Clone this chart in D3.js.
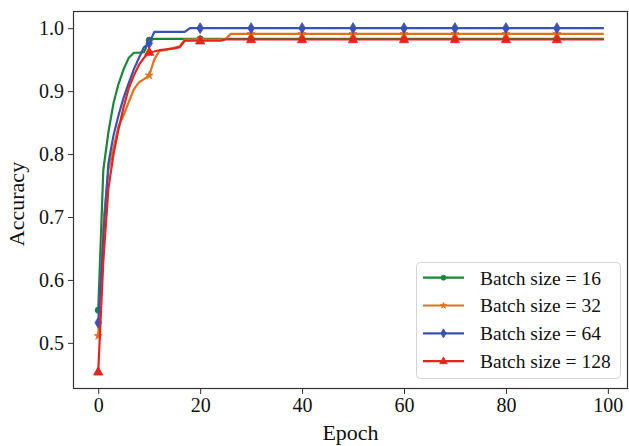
<!DOCTYPE html>
<html>
<head>
<meta charset="utf-8">
<script src="https://cdn.jsdelivr.net/npm/d3@7"></script>
<style>
  html, body { margin: 0; padding: 0; background: #fff; }
  svg { display: block; }
  text { font-family: "Liberation Serif", "Times New Roman", serif; fill: #111; }
</style>
</head>
<body>
<svg id="chart" width="629" height="446"></svg>
<script>
// ---------------- data ----------------
const seriesNames = ["Batch size = 16", "Batch size = 32", "Batch size = 64", "Batch size = 128"];
const epochs = d3.range(100);

const acc16 = [
  0.552,0.775,0.835,0.881,0.912,0.935,0.953,0.961,0.961,0.962,
  0.981,0.983,0.983,0.983,0.983,0.983,0.983,0.983,0.983,0.983,
  0.983,0.983,0.983,0.983,0.983,0.983,0.983,0.983,0.983,0.983,
  0.983,0.983,0.983,0.983,0.983,0.983,0.983,0.983,0.983,0.983,
  0.983,0.983,0.983,0.983,0.983,0.983,0.983,0.983,0.983,0.983,
  0.983,0.983,0.983,0.983,0.983,0.983,0.983,0.983,0.983,0.983,
  0.983,0.983,0.983,0.983,0.983,0.983,0.983,0.983,0.983,0.983,
  0.983,0.983,0.983,0.983,0.983,0.983,0.983,0.983,0.983,0.983,
  0.983,0.983,0.983,0.983,0.983,0.983,0.983,0.983,0.983,0.983,
  0.983,0.983,0.983,0.983,0.983,0.983,0.983,0.983,0.983,0.983
];
const acc32 = [
  0.511,0.690,0.775,0.810,0.845,0.862,0.883,0.903,0.914,0.919,
  0.925,0.950,0.964,0.965,0.967,0.969,0.971,0.982,0.982,0.982,
  0.982,0.982,0.982,0.982,0.982,0.983,0.991,0.991,0.991,0.991,
  0.991,0.991,0.991,0.991,0.991,0.991,0.991,0.991,0.991,0.991,
  0.991,0.991,0.991,0.991,0.991,0.991,0.991,0.991,0.991,0.991,
  0.991,0.991,0.991,0.991,0.991,0.991,0.991,0.991,0.991,0.991,
  0.991,0.991,0.991,0.991,0.991,0.991,0.991,0.991,0.991,0.991,
  0.991,0.991,0.991,0.991,0.991,0.991,0.991,0.991,0.991,0.991,
  0.991,0.991,0.991,0.991,0.991,0.991,0.991,0.991,0.991,0.991,
  0.991,0.991,0.991,0.991,0.991,0.991,0.991,0.991,0.991,0.991
];
const acc64 = [
  0.532,0.670,0.785,0.830,0.862,0.890,0.913,0.935,0.953,0.970,
  0.976,0.994,0.994,0.994,0.994,0.994,0.994,0.994,1.000,1.000,
  1.000,1.000,1.000,1.000,1.000,1.000,1.000,1.000,1.000,1.000,
  1.000,1.000,1.000,1.000,1.000,1.000,1.000,1.000,1.000,1.000,
  1.000,1.000,1.000,1.000,1.000,1.000,1.000,1.000,1.000,1.000,
  1.000,1.000,1.000,1.000,1.000,1.000,1.000,1.000,1.000,1.000,
  1.000,1.000,1.000,1.000,1.000,1.000,1.000,1.000,1.000,1.000,
  1.000,1.000,1.000,1.000,1.000,1.000,1.000,1.000,1.000,1.000,
  1.000,1.000,1.000,1.000,1.000,1.000,1.000,1.000,1.000,1.000,
  1.000,1.000,1.000,1.000,1.000,1.000,1.000,1.000,1.000,1.000
];
const acc128 = [
  0.454,0.630,0.745,0.800,0.840,0.875,0.905,0.925,0.942,0.953,
  0.962,0.963,0.965,0.966,0.967,0.968,0.970,0.980,0.980,0.980,
  0.980,0.980,0.980,0.980,0.980,0.982,0.982,0.982,0.982,0.982,
  0.982,0.982,0.982,0.982,0.982,0.982,0.982,0.982,0.982,0.982,
  0.982,0.982,0.982,0.982,0.982,0.982,0.982,0.982,0.982,0.982,
  0.982,0.982,0.982,0.982,0.982,0.982,0.982,0.982,0.982,0.982,
  0.982,0.982,0.982,0.982,0.982,0.982,0.982,0.982,0.982,0.982,
  0.982,0.982,0.982,0.982,0.982,0.982,0.982,0.982,0.982,0.982,
  0.982,0.982,0.982,0.982,0.982,0.982,0.982,0.982,0.982,0.982,
  0.982,0.982,0.982,0.982,0.982,0.982,0.982,0.982,0.982,0.982
];
const xTicks = [0, 20, 40, 60, 80, 100];
const yTicks = [0.5, 0.6, 0.7, 0.8, 0.9, 1.0];
const xLabel = "Epoch";
const yLabel = "Accuracy";

// ---------------- styling ----------------
const FONT = '"Liberation Serif", "Times New Roman", serif';
const colors = ["#17873a", "#e0721f", "#3a52b4", "#e6241d"];
const markerTypes = [d3.symbolCircle, "star", "thindiamond", "triangle"];
const markEvery = 10;

const svg = d3.select("#chart");
const W = 629, H = 446;
const margin = { left: 73, right: 1, top: 11, bottom: 57 };
const plotL = margin.left, plotR = W - margin.right, plotT = margin.top, plotB = H - margin.bottom;

const allSeries = [acc16, acc32, acc64, acc128];
const xExt = d3.extent(epochs);
const yExt = [d3.min(allSeries, s => d3.min(s)), d3.max(allSeries, s => d3.max(s))];
const xPad = (xExt[1] - xExt[0]) * 0.05, yPad = (yExt[1] - yExt[0]) * 0.05;

const x = d3.scaleLinear().domain([xExt[0] - xPad, xExt[1] + xPad]).range([plotL, plotR]);
const y = d3.scaleLinear().domain([yExt[0] - yPad, yExt[1] + yPad]).range([plotB, plotT]);

svg.append("defs").append("clipPath").attr("id", "clip")
  .append("rect").attr("x", plotL).attr("y", plotT).attr("width", plotR - plotL).attr("height", plotB - plotT);

// axes
const axisColor = "#333";
const xAxis = svg.append("g").attr("transform", `translate(0,${plotB})`)
  .call(d3.axisBottom(x).tickValues(xTicks).tickFormat(d3.format("d")).tickSize(5).tickPadding(4));
const yAxis = svg.append("g").attr("transform", `translate(${plotL},0)`)
  .call(d3.axisLeft(y).tickValues(yTicks).tickFormat(d3.format(".1f")).tickSize(5).tickPadding(4));
[xAxis, yAxis].forEach(a => {
  a.attr("font-family", FONT).attr("font-size", 20);
  a.select(".domain").remove();
  a.selectAll(".tick line").attr("stroke", axisColor).attr("stroke-width", 1);
  a.selectAll(".tick text").attr("fill", "#111").attr("font-family", FONT).attr("font-size", 20)
    .style("font-family", FONT);
});

// frame
svg.append("rect").attr("x", plotL + 0.5).attr("y", plotT + 0.5)
  .attr("width", plotR - plotL - 1).attr("height", plotB - plotT - 1)
  .attr("fill", "none").attr("stroke", axisColor).attr("stroke-width", 1.2);

// labels
svg.append("text").attr("x", (plotL + plotR) / 2).attr("y", 440)
  .attr("text-anchor", "middle").attr("font-size", 22).text(xLabel);
svg.append("text").attr("transform", `translate(24,${(plotT + plotB) / 2 + 4}) rotate(-90)`)
  .attr("text-anchor", "middle").attr("font-size", 22).text(yLabel);

function markerPath(type, legend) {
  if (type === "star") return d3.symbol(d3.symbolStar, legend ? 12 : 20)();
  if (type === "thindiamond") return legend ? "M0,-4.5L2.7,0L0,4.5L-2.7,0Z" : "M0,-5.5L3.3,0L0,5.5L-3.3,0Z";
  if (type === "triangle") return legend ? "M0,-4.2L3.8,2.6L-3.8,2.6Z" : "M0,-5.2L4.6,3.2L-4.6,3.2Z";
  return d3.symbol(type, legend ? 20 : 30)();
}

const line = d3.line().x((d, i) => x(epochs[i])).y(d => y(d));
const gPlot = svg.append("g").attr("clip-path", "url(#clip)");

allSeries.forEach((s, k) => {
  gPlot.append("path").datum(s).attr("d", line)
    .attr("fill", "none").attr("stroke", colors[k]).attr("stroke-width", 2.2)
    .attr("stroke-linejoin", "round").attr("stroke-linecap", "square");
  gPlot.selectAll(null).data(s.map((v, i) => [epochs[i], v]).filter(d => d[0] % markEvery === 0))
    .enter().append("path")
    .attr("d", markerPath(markerTypes[k], false))
    .attr("transform", d => `translate(${x(d[0])},${y(d[1])})`)
    .attr("fill", colors[k]).attr("stroke", colors[k]).attr("stroke-width", 0.8);
});

// legend
const lg = svg.append("g");
lg.append("rect").attr("x", 416.5).attr("y", 262.5).attr("width", 204).attr("height", 116)
  .attr("rx", 4).attr("fill", "#fff").attr("fill-opacity", 0.85).attr("stroke", "#d4d4d4").attr("stroke-width", 1);
seriesNames.forEach((name, k) => {
  const yy = 277.7 + k * 27.8;
  lg.append("line").attr("x1", 423).attr("x2", 464).attr("y1", yy).attr("y2", yy)
    .attr("stroke", colors[k]).attr("stroke-width", 2.2);
  lg.append("path").attr("d", markerPath(markerTypes[k], true))
    .attr("transform", `translate(443.5,${yy})`).attr("fill", colors[k]).attr("stroke", colors[k]).attr("stroke-width", 0.8);
  lg.append("text").attr("x", 480).attr("y", yy).attr("dy", "0.35em").attr("font-size", 19.5).text(name);
});
</script>
</body>
</html>
